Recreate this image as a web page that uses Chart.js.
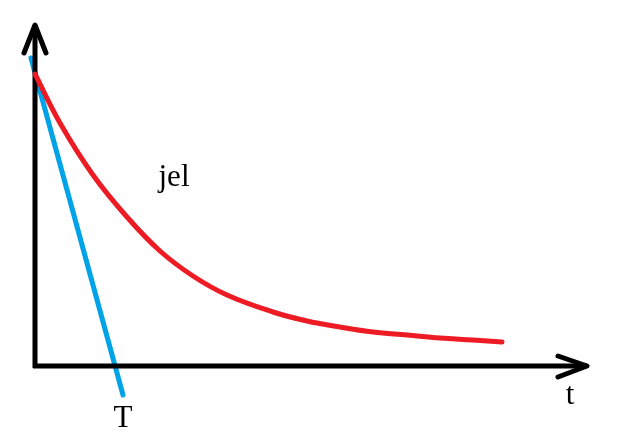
<!DOCTYPE html>
<html>
<head>
<meta charset="utf-8">
<script src="https://cdn.jsdelivr.net/npm/chart.js@4/dist/chart.umd.min.js"></script>
<style>
html,body{margin:0;padding:0;background:#fff;}
#c{display:block;}
</style>
</head>
<body>
<canvas id="c" width="642" height="438"></canvas>
<script>
// signal curve "jel" (time t, value)
const jelT = [0, 25, 58, 92, 125, 158, 192, 238, 272, 305, 338, 372, 405, 438, 467];
const jelV = [292, 243, 191, 149, 115, 90, 71, 54, 45, 39, 34, 31, 28, 26, 24];
// tangent line at t=0 (crosses axis at T)
const tanT = [-4, 88];
const tanV = [308, -29];
// axes with arrow heads
const yAxisT = [0, 0];
const yAxisV = [-2, 341];
const yArrowT = [-11, 0, 11];
const yArrowV = [313, 341, 313];
const xAxisT = [-2, 552];
const xAxisV = [0, 0];
const xArrowT = [523, 552, 523];
const xArrowV = [10, 0, -11];
// text labels
const labelText = ["jel", "T", "t"];
const labelT = [139, 88, 535];
const labelV = [180, -61, -38];

const pts = (xs, ys) => xs.map((x, i) => ({x: x, y: ys[i]}));
const base = {pointRadius: 0, fill: false, borderCapStyle: 'round', borderJoinStyle: 'round', clip: false, tension: 0};

const labelPlugin = {
  id: 'labels',
  afterDatasetsDraw(chart) {
    const ctx = chart.ctx;
    const xs = chart.scales.x, ys = chart.scales.y;
    ctx.save();
    ctx.fillStyle = '#000';
    ctx.font = '31px "Liberation Serif", "Times New Roman", serif';
    ctx.textAlign = 'center';
    ctx.textBaseline = 'alphabetic';
    labelText.forEach((s, i) => {
      ctx.fillText(s, xs.getPixelForValue(labelT[i]), ys.getPixelForValue(labelV[i]));
    });
    ctx.restore();
  }
};

new Chart(document.getElementById('c'), {
  type: 'line',
  data: {
    datasets: [
      Object.assign({}, base, {data: pts(jelT, jelV), borderColor: '#ED1C24', borderWidth: 5, tension: 0.4}),
      Object.assign({}, base, {data: pts(yAxisT, yAxisV), borderColor: '#000', borderWidth: 5, borderCapStyle: 'butt'}),
      Object.assign({}, base, {data: pts(xAxisT, xAxisV), borderColor: '#000', borderWidth: 5, borderCapStyle: 'butt'}),
      Object.assign({}, base, {data: pts(yArrowT, yArrowV), borderColor: '#000', borderWidth: 5}),
      Object.assign({}, base, {data: pts(xArrowT, xArrowV), borderColor: '#000', borderWidth: 5}),
      Object.assign({}, base, {data: pts(tanT, tanV), borderColor: '#00A2E8', borderWidth: 5})
    ]
  },
  options: {
    responsive: false,
    animation: false,
    events: [],
    layout: {padding: 0},
    plugins: {legend: {display: false}, tooltip: {enabled: false}, title: {display: false}},
    scales: {
      x: {type: 'linear', min: -35, max: 607, display: false},
      y: {type: 'linear', min: -72, max: 366, display: false}
    }
  },
  plugins: [labelPlugin]
});
</script>
</body>
</html>
